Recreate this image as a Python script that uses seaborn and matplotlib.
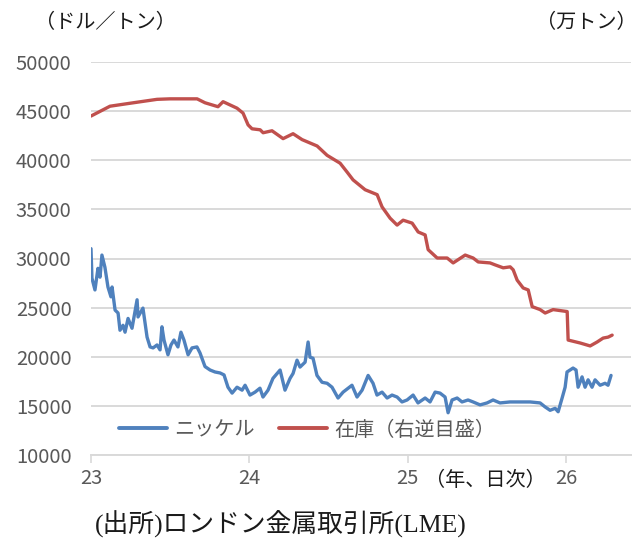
import matplotlib
matplotlib.use("Agg")
import matplotlib.pyplot as plt
from matplotlib import font_manager as fm
import pandas as pd
import seaborn as sns

# ---------------- data ----------------
nickel_t = [23.000, 23.006, 23.025, 23.044, 23.057, 23.069, 23.088, 23.107, 23.126, 23.133,
            23.152, 23.171, 23.183, 23.202, 23.215, 23.234, 23.259, 23.291, 23.297, 23.328,
            23.354, 23.373, 23.392, 23.417, 23.436, 23.448, 23.461, 23.486, 23.505, 23.524,
            23.549, 23.568, 23.587, 23.613, 23.638, 23.669, 23.688, 23.720, 23.752, 23.783,
            23.815, 23.840, 23.865, 23.891, 23.922, 23.954, 23.973, 24.004, 24.036, 24.067,
            24.086, 24.118, 24.149, 24.194, 24.225, 24.257, 24.276, 24.301, 24.320, 24.352,
            24.371, 24.383, 24.402, 24.427, 24.459, 24.491, 24.522, 24.560, 24.592, 24.648,
            24.680, 24.712, 24.750, 24.781, 24.806, 24.838, 24.870, 24.901, 24.933, 24.964,
            24.996, 25.034, 25.065, 25.110, 25.141, 25.173, 25.204, 25.236, 25.255, 25.280,
            25.312, 25.343, 25.381, 25.413, 25.457, 25.501, 25.539, 25.583, 25.646, 25.710,
            25.773, 25.836, 25.867, 25.899, 25.931, 25.950, 25.975, 25.994, 26.006, 26.025,
            26.044, 26.063, 26.076, 26.101, 26.120, 26.139, 26.164, 26.183, 26.215, 26.246,
            26.265, 26.284]
nickel_price = [31000, 28000, 26800, 29000, 28100, 30350, 29100, 27100, 26100, 27100,
                24750, 24450, 22700, 23200, 22500, 23900, 22900, 25800, 24050, 24950,
                22000, 21000, 20900, 21200, 20700, 23050, 21700, 20200, 21200, 21700,
                21000, 22500, 21700, 20200, 20900, 21000, 20400, 19000, 18650, 18450,
                18350, 18150, 16900, 16300, 16900, 16600, 17100, 16100, 16400, 16800,
                15900, 16600, 17800, 18650, 16600, 17800, 18300, 19650, 18950, 19450,
                21500, 19950, 19850, 18100, 17400, 17300, 16900, 15800, 16400, 17100,
                15900, 16600, 18100, 17300, 16100, 16400, 15800, 16100, 15900, 15400,
                15600, 16100, 15300, 15800, 15400, 16400, 16300, 15900, 14300, 15600,
                15800, 15400, 15600, 15400, 15100, 15300, 15600, 15300, 15400, 15400,
                15400, 15300, 14900, 14550, 14750, 14400, 15800, 16900, 18450, 18650,
                18850, 18650, 16900, 17950, 16900, 17650, 16900, 17650, 17100, 17300,
                17100, 18100]

stock_t = [23.000, 23.120, 23.246, 23.417, 23.499, 23.670, 23.720, 23.802, 23.834, 23.922,
           23.960, 23.992, 24.017, 24.068, 24.087, 24.143, 24.213, 24.276, 24.333, 24.428,
           24.491, 24.573, 24.617, 24.655, 24.731, 24.807, 24.838, 24.889, 24.933, 24.971,
           25.028, 25.066, 25.110, 25.129, 25.186, 25.249, 25.287, 25.363, 25.413, 25.445,
           25.520, 25.552, 25.603, 25.647, 25.666, 25.691, 25.729, 25.761, 25.786, 25.836,
           25.868, 25.918, 26.007, 26.013, 26.089, 26.152, 26.196, 26.234, 26.266, 26.291]
stock_10kt = [5.5, 4.5, 4.2, 3.8, 3.75, 3.75, 4.15, 4.55, 4.04, 4.7,
              5.2, 6.4, 6.8, 6.9, 7.2, 7.0, 7.8, 7.3, 7.9, 8.55,
              9.5, 10.3, 11.2, 12.0, 13.0, 13.5, 14.75, 15.9, 16.6, 16.1,
              16.4, 17.3, 17.6, 19.1, 19.95, 19.95, 20.45, 19.65, 19.95, 20.35,
              20.45, 20.65, 20.95, 20.85, 21.15, 22.2, 23.0, 23.2, 24.9, 25.2,
              25.55, 25.2, 25.4, 28.3, 28.6, 28.9, 28.5, 28.1, 28.0, 27.8]

x_ticks = [23, 24, 25, 26]
x_tick_labels = ["23", "24", "25", "26"]
y_ticks = [10000, 15000, 20000, 25000, 30000, 35000, 40000, 45000, 50000]
series_names = ["ニッケル", "在庫（右逆目盛）"]

# ---------------- style ----------------
sns.set_theme(style="white")
names = {f.name for f in fm.fontManager.ttflist}
narrow = "Liberation Sans Narrow" in names
plt.rcParams["font.family"] = ["Noto Sans CJK JP", "DejaVu Sans"]
num_family = ["Liberation Sans Narrow", "Noto Sans CJK JP"] if narrow else ["Noto Sans CJK JP"]
num_size = 18 if narrow else 14.5

BLUE = "#4f81bd"
RED = "#c0504d"
GRID = "#d9d9d9"
TXT = "#595959"

W, H = 640, 548
fig = plt.figure(figsize=(W / 100, H / 100), dpi=100)
ax = fig.add_axes([91 / W, 1 - 455 / H, (631 - 91) / W, 393 / H])
ax2 = ax.twinx()

df_n = pd.DataFrame({"t": nickel_t, "v": nickel_price})
df_s = pd.DataFrame({"t": stock_t, "v": stock_10kt})

sns.lineplot(data=df_n, x="t", y="v", ax=ax, color=BLUE, linewidth=2.4,
             label=series_names[0], legend=False)
sns.lineplot(data=df_s, x="t", y="v", ax=ax2, color=RED, linewidth=2.4,
             label=series_names[1], legend=False)

ax.set_xlim(23, 26.41)
ax.set_ylim(10000, 50000)
ax2.set_ylim(40, 0)
ax.set_xlabel("")
ax.set_ylabel("")
ax2.set_xlabel("")
ax2.set_ylabel("")

ax.set_yticks(y_ticks)
ax.set_yticklabels([str(v) for v in y_ticks], family=num_family, size=num_size, color=TXT)
ax.set_xticks(x_ticks)
ax.set_xticklabels(x_tick_labels, family=num_family, size=num_size, color=TXT)
ax.yaxis.grid(True, color=GRID, linewidth=1.4)
ax.xaxis.grid(False)
ax.set_axisbelow(True)
ax.tick_params(axis="y", length=0, pad=14)
ax.tick_params(axis="x", length=6, width=1.2, color=GRID, direction="out", pad=3,
               bottom=True)
for s in ["top", "left", "right"]:
    ax.spines[s].set_visible(False)
    ax2.spines[s].set_visible(False)
ax.spines["bottom"].set_color(GRID)
ax.spines["bottom"].set_linewidth(1.4)
ax2.spines["bottom"].set_visible(False)
ax2.set_yticks([])
ax2.tick_params(length=0)

# legend
h1, l1 = ax.get_legend_handles_labels()
h2, l2 = ax2.get_legend_handles_labels()
leg = ax2.legend(h1 + h2, l1 + l2, ncol=2, frameon=False, loc="center",
                 bbox_to_anchor=(307 / W, 1 - 430 / H), bbox_transform=fig.transFigure,
                 prop={"family": ["Noto Sans CJK JP"], "size": 14.5},
                 handlelength=2.4, handletextpad=0.35, columnspacing=1.2)
for t in leg.get_texts():
    t.set_color(TXT)
for line in leg.get_lines():
    line.set_linewidth(2.8)

# annotations
fig.text(105 / W, 1 - 23 / H, "（ドル／トン）", ha="center", va="center",
         fontsize=14.5, color="#1a1a1a")
fig.text(637 / W, 1 - 23 / H, "（万トン）", ha="right", va="center",
         fontsize=14.5, color="#1a1a1a")
fig.text(485 / W, 1 - 481 / H, "（年、日次）", ha="center", va="center",
         fontsize=14.5, color="#1a1a1a")
fig.text(281 / W, 1 - 524 / H, "(出所)ロンドン金属取引所(LME)", ha="center", va="center",
         fontsize=18.5, color="#1a1a1a", family=["Liberation Serif", "Noto Sans CJK JP"])

fig.savefig("out.png", dpi=100)
